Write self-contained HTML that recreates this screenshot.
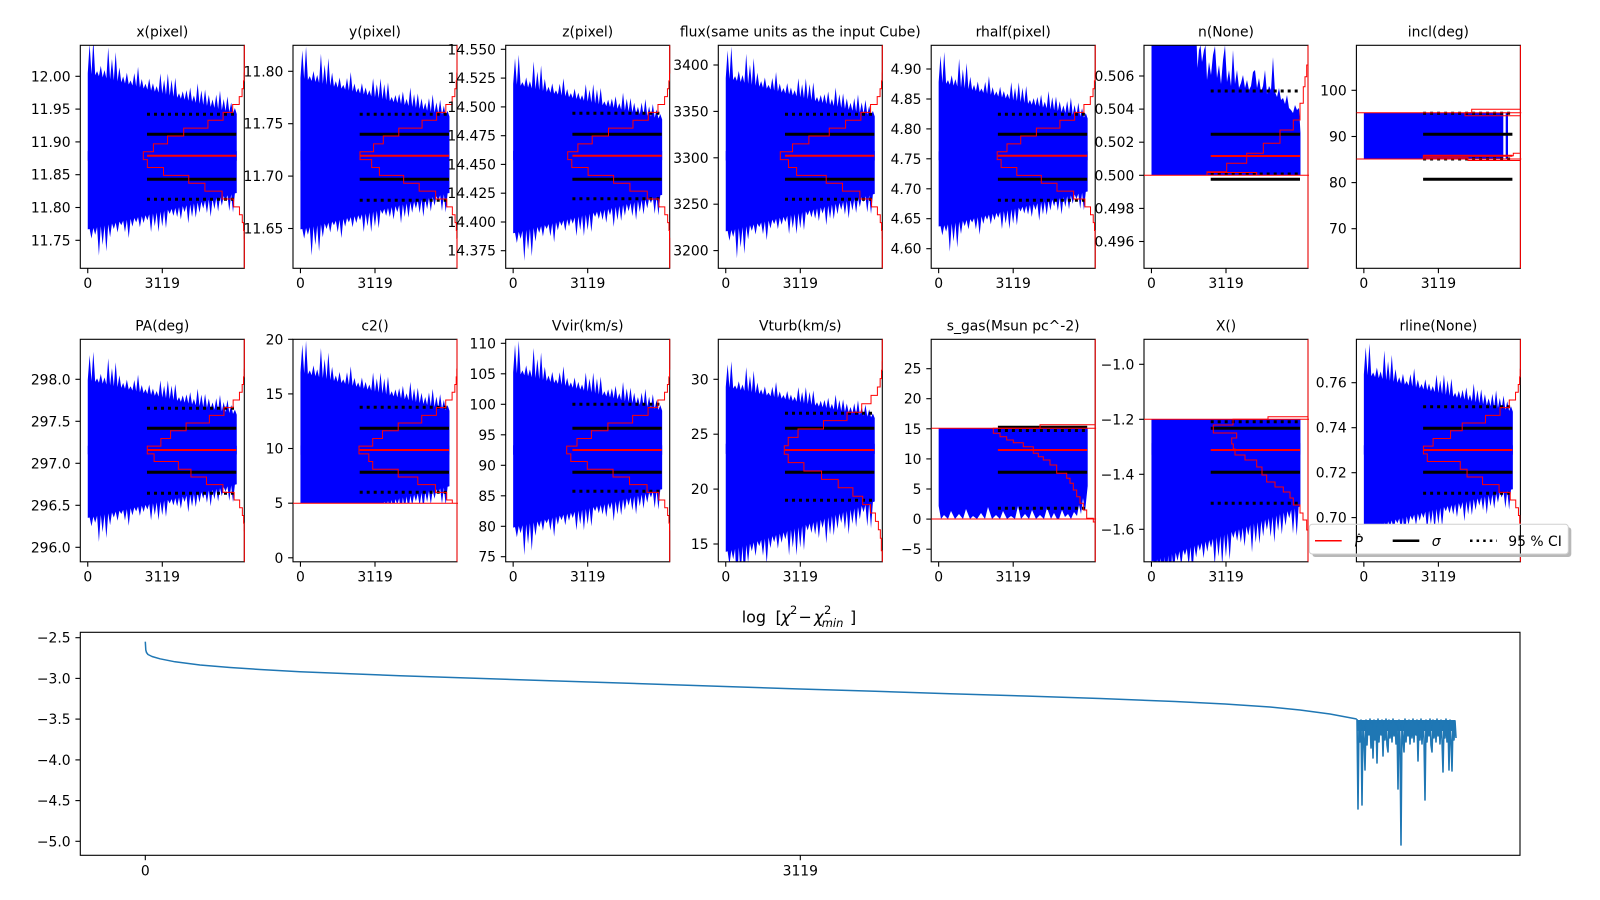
<!DOCTYPE html>
<html><head><meta charset="utf-8"><style>
html,body{margin:0;padding:0;background:#fff;}
svg{display:block;}
.b{fill:#0000ff;}
.h{fill:none;stroke:#ff0000;stroke-width:1;vector-effect:non-scaling-stroke;}
.hr{fill:none;stroke:#ff0000;stroke-width:1;}
.s{stroke:#000;stroke-width:3;}
.d{stroke:#000;stroke-width:3;stroke-dasharray:3 4;}
.m{stroke:#ff0000;stroke-width:2;}
.sp{fill:none;stroke:#000;stroke-width:1.1;}
.tk{stroke:#000;stroke-width:1.1;}
text{font-family:"DejaVu Sans","Liberation Sans",sans-serif;font-size:13.9px;fill:#000;}
.ya{text-anchor:end;}
.xa{text-anchor:middle;}
</style></head><body>
<svg xmlns="http://www.w3.org/2000/svg" xmlns:xlink="http://www.w3.org/1999/xlink" width="1600" height="900" viewBox="0 0 1600 900">
<defs>
<path id="bt" d="M0,.06 L0,-.97 L.0125,-1.317 L.025,-.958 L.0375,-1.365 L.05,-.946 L.0625,-.995 L.075,-.934 L.0875,-1.058 L.1,-.922 L.1125,-1.008 L.125,-.91 L.1375,-1.275 L.15,-.898 L.1625,-1.138 L.175,-.886 L.1875,-1.219 L.2,-.874 L.2125,-1.039 L.225,-.862 L.2375,-.932 L.25,-.85 L.2625,-.977 L.275,-.838 L.2875,-.885 L.3,-.826 L.3125,-.972 L.325,-.814 L.3375,-1.047 L.35,-.802 L.3625,-.902 L.375,-.79 L.3875,-.846 L.4,-.778 L.4125,-.907 L.425,-.766 L.4375,-.852 L.45,-.754 L.4625,-.819 L.475,-.742 L.4875,-.968 L.5,-.73 L.5125,-.893 L.525,-.718 L.5375,-.967 L.55,-.706 L.5625,-.894 L.575,-.694 L.5875,-.917 L.6,-.682 L.6125,-.734 L.625,-.67 L.6375,-.758 L.65,-.658 L.6625,-.772 L.675,-.646 L.6875,-.803 L.7,-.634 L.7125,-.71 L.725,-.622 L.7375,-.852 L.75,-.61 L.7625,-.769 L.775,-.598 L.7875,-.779 L.8,-.586 L.8125,-.716 L.825,-.574 L.8375,-.662 L.85,-.562 L.8625,-.719 L.875,-.55 L.8875,-.766 L.9,-.538 L.9125,-.667 L.925,-.526 L.9375,-.698 L.95,-.514 L.9625,-.625 L.975,-.502 L.9875,-.561 L1,-.49 L1,.06 Z"/>
<path id="bb" d="M0,-.06 L0,.97 L.0125,.964 L.025,1.091 L.0375,.952 L.05,1.04 L.0625,.94 L.075,1.315 L.0875,.928 L.1,1.175 L.1125,.916 L.125,1.259 L.1375,.904 L.15,1.073 L.1625,.892 L.175,.964 L.1875,.88 L.2,1.01 L.2125,.868 L.225,.915 L.2375,.856 L.25,1.007 L.2625,.844 L.275,1.084 L.2875,.832 L.3,.934 L.3125,.82 L.325,.877 L.3375,.808 L.35,.941 L.3625,.796 L.375,.885 L.3875,.784 L.4,.85 L.4125,.772 L.425,1.005 L.4375,.76 L.45,.928 L.4625,.748 L.475,1.005 L.4875,.736 L.5,.93 L.5125,.724 L.525,.955 L.5375,.712 L.55,.765 L.5625,.7 L.575,.791 L.5875,.688 L.6,.806 L.6125,.676 L.625,.839 L.6375,.664 L.65,.743 L.6625,.652 L.675,.891 L.6875,.64 L.7,.805 L.7125,.628 L.725,.816 L.7375,.616 L.75,.751 L.7625,.604 L.775,.695 L.7875,.592 L.8,.755 L.8125,.58 L.825,.805 L.8375,.568 L.85,.703 L.8625,.556 L.875,.735 L.8875,.544 L.9,.659 L.9125,.532 L.925,.593 L.9375,.52 L.95,.727 L.9625,.508 L.975,.747 L.9875,.496 L1,.49 L1,-.06 Z"/>
<clipPath id="k0"><rect x="80.3" y="45.3" width="165" height="223"/></clipPath>
<clipPath id="k1"><rect x="293" y="45.3" width="165" height="223"/></clipPath>
<clipPath id="k2"><rect x="505.7" y="45.3" width="165" height="223"/></clipPath>
<clipPath id="k3"><rect x="718.3" y="45.3" width="165" height="223"/></clipPath>
<clipPath id="k4"><rect x="931.2" y="45.3" width="165" height="223"/></clipPath>
<clipPath id="k5"><rect x="1144" y="45.3" width="165" height="223"/></clipPath>
<clipPath id="k6"><rect x="1356.4" y="45.3" width="165" height="223"/></clipPath>
<clipPath id="k7"><rect x="80.3" y="339.3" width="165" height="222.5"/></clipPath>
<clipPath id="k8"><rect x="293" y="339.3" width="165" height="222.5"/></clipPath>
<clipPath id="k8b"><rect x="293" y="339.3" width="165" height="164"/></clipPath>
<clipPath id="k9"><rect x="505.7" y="339.3" width="165" height="222.5"/></clipPath>
<clipPath id="k10"><rect x="718.3" y="339.3" width="165" height="222.5"/></clipPath>
<clipPath id="k11"><rect x="931.2" y="339.3" width="165" height="222.5"/></clipPath>
<clipPath id="k12"><rect x="1144" y="339.3" width="165" height="222.5"/></clipPath>
<clipPath id="k12b"><rect x="1144" y="419.3" width="165" height="142.5"/></clipPath>
<clipPath id="k13"><rect x="1356.4" y="339.3" width="165" height="222.5"/></clipPath>
<clipPath id="kb"><rect x="80.3" y="632.3" width="1439.7" height="223"/></clipPath>
</defs>
<rect x="0" y="0" width="1600" height="900" fill="#fff"/>

<!-- ===== P1 x(pixel) ===== -->
<g clip-path="url(#k0)">
<use xlink:href="#bt" class="b" transform="translate(87.75,155.7) scale(149,85)"/>
<use xlink:href="#bb" class="b" transform="translate(87.75,155.7) scale(149,76)"/>
<line class="d" x1="147" x2="236.3" y1="114.3" y2="114.3"/>
<line class="d" x1="147" x2="236.3" y1="199.3" y2="199.3"/>
<line class="s" x1="147" x2="236.3" y1="134.3" y2="134.3"/>
<line class="s" x1="147" x2="236.3" y1="179.3" y2="179.3"/>
<line class="m" x1="147" x2="236.3" y1="155.7" y2="155.7"/>
</g>
<rect class="sp" x="80.3" y="45.3" width="164" height="223"/>
<g clip-path="url(#k0)"><path class="h" transform="translate(244.3,155.7) scale(101,22.5)" d="M0,-8V-3.675H-.002V-3.325H-.008V-2.975H-.022V-2.625H-.05V-2.275H-.115V-1.925H-.21V-1.575H-.36V-1.225H-.6V-.875H-.76V-.525H-.9V-.175H-1V.175H-.96V.525H-.8V.875H-.55V1.225H-.39V1.575H-.22V1.925H-.105V2.275H-.048V2.625H-.02V2.975H-.007V3.325H-.002V3.675H0V8"/></g>
<text class="xa" x="162.3" y="36.7">x(pixel)</text>
<g class="tk"><line x1="75.4" x2="80.3" y1="76.3" y2="76.3"/><line x1="75.4" x2="80.3" y1="109.1" y2="109.1"/><line x1="75.4" x2="80.3" y1="141.9" y2="141.9"/><line x1="75.4" x2="80.3" y1="174.7" y2="174.7"/><line x1="75.4" x2="80.3" y1="207.5" y2="207.5"/><line x1="75.4" x2="80.3" y1="240.3" y2="240.3"/><line x1="87.75" x2="87.75" y1="268.3" y2="273.2"/><line x1="162.3" x2="162.3" y1="268.3" y2="273.2"/></g>
<text class="ya" x="70.6" y="81.3">12.00</text><text class="ya" x="70.6" y="114.1">11.95</text><text class="ya" x="70.6" y="146.9">11.90</text><text class="ya" x="70.6" y="179.7">11.85</text><text class="ya" x="70.6" y="212.5">11.80</text><text class="ya" x="70.6" y="245.3">11.75</text>
<text class="xa" x="87.75" y="287.8">0</text><text class="xa" x="162.3" y="287.8">3119</text>

<!-- ===== P2 y(pixel) ===== -->
<g clip-path="url(#k1)">
<use xlink:href="#bt" class="b" transform="translate(300.45,155.7) scale(149,80)"/>
<use xlink:href="#bb" class="b" transform="translate(300.45,155.7) scale(149,76)"/>
<line class="d" x1="359.7" x2="449" y1="114.3" y2="114.3"/>
<line class="d" x1="359.7" x2="449" y1="200.3" y2="200.3"/>
<line class="s" x1="359.7" x2="449" y1="134.3" y2="134.3"/>
<line class="s" x1="359.7" x2="449" y1="179.3" y2="179.3"/>
<line class="m" x1="359.7" x2="449" y1="155.7" y2="155.7"/>
</g>
<rect class="sp" x="293" y="45.3" width="164" height="223"/>
<g clip-path="url(#k1)"><path class="h" transform="translate(457,155.7) scale(97,22.5)" d="M0,-8V-3.675H-.002V-3.325H-.008V-2.975H-.022V-2.625H-.05V-2.275H-.115V-1.925H-.21V-1.575H-.36V-1.225H-.6V-.875H-.76V-.525H-.86V-.175H-1V.175H-.88V.525H-.8V.875H-.55V1.225H-.39V1.575H-.22V1.925H-.105V2.275H-.048V2.625H-.02V2.975H-.007V3.325H-.002V3.675H0V8"/></g>
<text class="xa" x="375" y="36.7">y(pixel)</text>
<g class="tk"><line x1="288.1" x2="293" y1="71.3" y2="71.3"/><line x1="288.1" x2="293" y1="123.7" y2="123.7"/><line x1="288.1" x2="293" y1="176.1" y2="176.1"/><line x1="288.1" x2="293" y1="228.5" y2="228.5"/><line x1="300.45" x2="300.45" y1="268.3" y2="273.2"/><line x1="375" x2="375" y1="268.3" y2="273.2"/></g>
<text class="ya" x="283.3" y="76.3">11.80</text><text class="ya" x="283.3" y="128.7">11.75</text><text class="ya" x="283.3" y="181.1">11.70</text><text class="ya" x="283.3" y="233.5">11.65</text>
<text class="xa" x="300.45" y="287.8">0</text><text class="xa" x="375" y="287.8">3119</text>

<!-- ===== P3 z(pixel) ===== -->
<g clip-path="url(#k2)">
<use xlink:href="#bt" class="b" transform="translate(513.15,155.7) scale(149,74)"/>
<use xlink:href="#bb" class="b" transform="translate(513.15,155.7) scale(149,80)"/>
<line class="d" x1="572.4" x2="661.7" y1="113.3" y2="113.3"/>
<line class="d" x1="572.4" x2="661.7" y1="198.7" y2="198.7"/>
<line class="s" x1="572.4" x2="661.7" y1="134.3" y2="134.3"/>
<line class="s" x1="572.4" x2="661.7" y1="179.3" y2="179.3"/>
<line class="m" x1="572.4" x2="661.7" y1="155.7" y2="155.7"/>
</g>
<rect class="sp" x="505.7" y="45.3" width="164" height="223"/>
<g clip-path="url(#k2)"><path class="h" transform="translate(669.7,155.7) scale(102,22.5)" d="M0,-8V-3.675H-.002V-3.325H-.008V-2.975H-.022V-2.625H-.05V-2.275H-.115V-1.925H-.21V-1.575H-.36V-1.225H-.6V-.875H-.76V-.525H-.9V-.175H-1V.175H-.96V.525H-.8V.875H-.55V1.225H-.39V1.575H-.22V1.925H-.105V2.275H-.048V2.625H-.02V2.975H-.007V3.325H-.002V3.675H0V8"/></g>
<text class="xa" x="587.7" y="36.7">z(pixel)</text>
<g class="tk"><line x1="500.8" x2="505.7" y1="49.3" y2="49.3"/><line x1="500.8" x2="505.7" y1="78.1" y2="78.1"/><line x1="500.8" x2="505.7" y1="106.9" y2="106.9"/><line x1="500.8" x2="505.7" y1="135.7" y2="135.7"/><line x1="500.8" x2="505.7" y1="164.4" y2="164.4"/><line x1="500.8" x2="505.7" y1="193.2" y2="193.2"/><line x1="500.8" x2="505.7" y1="222" y2="222"/><line x1="500.8" x2="505.7" y1="250.7" y2="250.7"/><line x1="513.15" x2="513.15" y1="268.3" y2="273.2"/><line x1="587.7" x2="587.7" y1="268.3" y2="273.2"/></g>
<text class="ya" x="496" y="54.3">14.550</text><text class="ya" x="496" y="83.1">14.525</text><text class="ya" x="496" y="111.9">14.500</text><text class="ya" x="496" y="140.7">14.475</text><text class="ya" x="496" y="169.4">14.450</text><text class="ya" x="496" y="198.2">14.425</text><text class="ya" x="496" y="227">14.400</text><text class="ya" x="496" y="255.7">14.375</text>
<text class="xa" x="513.15" y="287.8">0</text><text class="xa" x="587.7" y="287.8">3119</text>

<!-- ===== P4 flux ===== -->
<g clip-path="url(#k3)">
<use xlink:href="#bt" class="b" transform="translate(725.75,155.7) scale(149,80)"/>
<use xlink:href="#bb" class="b" transform="translate(725.75,155.7) scale(149,78)"/>
<line class="d" x1="785" x2="874.3" y1="114.3" y2="114.3"/>
<line class="d" x1="785" x2="874.3" y1="199.3" y2="199.3"/>
<line class="s" x1="785" x2="874.3" y1="134.3" y2="134.3"/>
<line class="s" x1="785" x2="874.3" y1="179.3" y2="179.3"/>
<line class="m" x1="785" x2="874.3" y1="155.7" y2="155.7"/>
</g>
<rect class="sp" x="718.3" y="45.3" width="164" height="223"/>
<g clip-path="url(#k3)"><path class="h" transform="translate(882.3,155.7) scale(102,22.5)" d="M0,-8V-3.675H-.002V-3.325H-.008V-2.975H-.022V-2.625H-.05V-2.275H-.115V-1.925H-.21V-1.575H-.36V-1.225H-.52V-.875H-.72V-.525H-.88V-.175H-1V.175H-.92V.525H-.84V.875H-.55V1.225H-.39V1.575H-.22V1.925H-.105V2.275H-.048V2.625H-.02V2.975H-.007V3.325H-.002V3.675H0V8"/></g>
<text class="xa" x="800.3" y="36.7">flux(same units as the input Cube)</text>
<g class="tk"><line x1="713.4" x2="718.3" y1="65" y2="65"/><line x1="713.4" x2="718.3" y1="111.4" y2="111.4"/><line x1="713.4" x2="718.3" y1="157.8" y2="157.8"/><line x1="713.4" x2="718.3" y1="204.2" y2="204.2"/><line x1="713.4" x2="718.3" y1="250.6" y2="250.6"/><line x1="725.75" x2="725.75" y1="268.3" y2="273.2"/><line x1="800.3" x2="800.3" y1="268.3" y2="273.2"/></g>
<text class="ya" x="708.6" y="70">3400</text><text class="ya" x="708.6" y="116.4">3350</text><text class="ya" x="708.6" y="162.8">3300</text><text class="ya" x="708.6" y="209.2">3250</text><text class="ya" x="708.6" y="255.6">3200</text>
<text class="xa" x="725.75" y="287.8">0</text><text class="xa" x="800.3" y="287.8">3119</text>

<!-- ===== P5 rhalf ===== -->
<g clip-path="url(#k4)">
<use xlink:href="#bt" class="b" transform="translate(938.65,155.7) scale(149,76)"/>
<use xlink:href="#bb" class="b" transform="translate(938.65,155.7) scale(149,73)"/>
<line class="d" x1="997.9" x2="1087.2" y1="114.3" y2="114.3"/>
<line class="d" x1="997.9" x2="1087.2" y1="200.3" y2="200.3"/>
<line class="s" x1="997.9" x2="1087.2" y1="134.3" y2="134.3"/>
<line class="s" x1="997.9" x2="1087.2" y1="179.3" y2="179.3"/>
<line class="m" x1="997.9" x2="1087.2" y1="155.7" y2="155.7"/>
</g>
<rect class="sp" x="931.2" y="45.3" width="164" height="223"/>
<g clip-path="url(#k4)"><path class="h" transform="translate(1095.2,155.7) scale(98,22.5)" d="M0,-8V-3.675H-.002V-3.325H-.008V-2.975H-.022V-2.625H-.05V-2.275H-.115V-1.925H-.21V-1.575H-.36V-1.225H-.6V-.875H-.76V-.525H-.9V-.175H-1V.175H-.96V.525H-.8V.875H-.55V1.225H-.39V1.575H-.22V1.925H-.105V2.275H-.048V2.625H-.02V2.975H-.007V3.325H-.002V3.675H0V8"/></g>
<text class="xa" x="1013.2" y="36.7">rhalf(pixel)</text>
<g class="tk"><line x1="926.3" x2="931.2" y1="69" y2="69"/><line x1="926.3" x2="931.2" y1="99" y2="99"/><line x1="926.3" x2="931.2" y1="128.9" y2="128.9"/><line x1="926.3" x2="931.2" y1="158.8" y2="158.8"/><line x1="926.3" x2="931.2" y1="188.8" y2="188.8"/><line x1="926.3" x2="931.2" y1="218.7" y2="218.7"/><line x1="926.3" x2="931.2" y1="248.7" y2="248.7"/><line x1="938.65" x2="938.65" y1="268.3" y2="273.2"/><line x1="1013.2" x2="1013.2" y1="268.3" y2="273.2"/></g>
<text class="ya" x="921.5" y="74">4.90</text><text class="ya" x="921.5" y="104">4.85</text><text class="ya" x="921.5" y="133.9">4.80</text><text class="ya" x="921.5" y="163.8">4.75</text><text class="ya" x="921.5" y="193.8">4.70</text><text class="ya" x="921.5" y="223.7">4.65</text><text class="ya" x="921.5" y="253.7">4.60</text>
<text class="xa" x="938.65" y="287.8">0</text><text class="xa" x="1013.2" y="287.8">3119</text>

<!-- ===== P6 n(None) ===== -->
<g clip-path="url(#k5)">
<path class="b" d="M1151.5,175.3 V45.3 H1196.7 L1197.5,68 L1199,50 L1200.5,45.3 L1202,62 L1204,50 L1205.5,45.3 L1207,80 L1209,62 L1211,75 L1213,55 L1215,46 L1217,78 L1219,65 L1221,84 L1223,60 L1225,45.3 L1227,82 L1229,70 L1231,86 L1233,50 L1235,84 L1237,70 L1239,88 L1241,83 L1243,75 L1245,88 L1247,80 L1249,90 L1251,86 L1253,72 L1255,70 L1257,88 L1259,78 L1261,92 L1263,86 L1265,70 L1267,94 L1269,86 L1271,90 L1273,57 L1275,92 L1277,97 L1279,88 L1281,100 L1283,98 L1285,104 L1287,95 L1289,108 L1291,110 L1293,113 L1295,105 L1297,110 L1299,108 L1300.5,133 L1300.5,175.3 Z"/>
<line class="d" x1="1210.7" x2="1300" y1="91" y2="91"/>
<line class="d" x1="1210.7" x2="1300" y1="174" y2="174"/>
<line class="s" x1="1210.7" x2="1300" y1="134.3" y2="134.3"/>
<line class="s" x1="1210.7" x2="1300" y1="179.3" y2="179.3"/>
<line class="m" x1="1210.7" x2="1300" y1="156" y2="156"/>
</g>
<rect class="sp" x="1144" y="45.3" width="164" height="223"/>
<g clip-path="url(#k5)">
<line class="hr" x1="1144" x2="1309" y1="175.3" y2="175.3"/>
<path class="hr" d="M1308,268.3 V45.3 M1308,65 H1306.7 V76.7 H1305 V86.7 H1303.3 V103.3 H1300 V120 H1293.3 V130 H1280 V143.3 H1263.3 V153.3 H1246.7 V163.3 H1226.7 V171.7 H1207 V175.3 M1207,172.5 H1256.7 V175"/>
</g>
<text class="xa" x="1226" y="36.7">n(None)</text>
<g class="tk"><line x1="1139.1" x2="1144" y1="76" y2="76"/><line x1="1139.1" x2="1144" y1="109.1" y2="109.1"/><line x1="1139.1" x2="1144" y1="142.2" y2="142.2"/><line x1="1139.1" x2="1144" y1="175.3" y2="175.3"/><line x1="1139.1" x2="1144" y1="208.4" y2="208.4"/><line x1="1139.1" x2="1144" y1="241.5" y2="241.5"/><line x1="1151.45" x2="1151.45" y1="268.3" y2="273.2"/><line x1="1226" x2="1226" y1="268.3" y2="273.2"/></g>
<text class="ya" x="1134.3" y="81">0.506</text><text class="ya" x="1134.3" y="114.1">0.504</text><text class="ya" x="1134.3" y="147.2">0.502</text><text class="ya" x="1134.3" y="180.3">0.500</text><text class="ya" x="1134.3" y="213.4">0.498</text><text class="ya" x="1134.3" y="246.5">0.496</text>
<text class="xa" x="1151.45" y="287.8">0</text><text class="xa" x="1226" y="287.8">3119</text>

<!-- ===== P7 incl(deg) ===== -->
<g clip-path="url(#k6)">
<rect class="b" x="1363.85" y="112.7" width="139.45" height="46.3"/>
<rect class="b" x="1505.7" y="112.7" width="2.3" height="46.3"/>
<line class="d" x1="1423.1" x2="1512.4" y1="113.3" y2="113.3"/>
<line class="d" x1="1423.1" x2="1512.4" y1="159" y2="159"/>
<line class="s" x1="1423.1" x2="1512.4" y1="134.3" y2="134.3"/>
<line class="s" x1="1423.1" x2="1512.4" y1="179.3" y2="179.3"/>
<line class="m" x1="1423.1" x2="1512.4" y1="155.7" y2="155.7"/>
</g>
<rect class="sp" x="1356.4" y="45.3" width="164" height="223"/>
<g clip-path="url(#k6)">
<line class="hr" x1="1356.4" x2="1521.4" y1="112.7" y2="112.7"/>
<line class="hr" x1="1356.4" x2="1521.4" y1="159" y2="159"/>
<path class="hr" d="M1520.4,45.3 V268.3 M1520.4,109.3 H1471.7 V112.7 H1465 V115.7 H1520.4 M1520.4,153.3 H1513.3 V155.7 H1423.3 V157.7 H1468 V160.5 H1520.4"/>
</g>
<text class="xa" x="1438.4" y="36.7">incl(deg)</text>
<g class="tk"><line x1="1351.5" x2="1356.4" y1="90.3" y2="90.3"/><line x1="1351.5" x2="1356.4" y1="136.5" y2="136.5"/><line x1="1351.5" x2="1356.4" y1="182.6" y2="182.6"/><line x1="1351.5" x2="1356.4" y1="228.7" y2="228.7"/><line x1="1363.85" x2="1363.85" y1="268.3" y2="273.2"/><line x1="1438.4" x2="1438.4" y1="268.3" y2="273.2"/></g>
<text class="ya" x="1346.7" y="95.3">100</text><text class="ya" x="1346.7" y="141.5">90</text><text class="ya" x="1346.7" y="187.6">80</text><text class="ya" x="1346.7" y="233.7">70</text>
<text class="xa" x="1363.85" y="287.8">0</text><text class="xa" x="1438.4" y="287.8">3119</text>

<!-- ===== P8 PA(deg) ===== -->
<g clip-path="url(#k7)">
<use xlink:href="#bt" class="b" transform="translate(87.75,450) scale(149,72)"/>
<use xlink:href="#bb" class="b" transform="translate(87.75,450) scale(149,70)"/>
<line class="d" x1="147" x2="236.3" y1="408.3" y2="408.3"/>
<line class="d" x1="147" x2="236.3" y1="493.3" y2="493.3"/>
<line class="s" x1="147" x2="236.3" y1="428.3" y2="428.3"/>
<line class="s" x1="147" x2="236.3" y1="472.3" y2="472.3"/>
<line class="m" x1="147" x2="236.3" y1="450" y2="450"/>
</g>
<rect class="sp" x="80.3" y="339.3" width="164" height="222.5"/>
<g clip-path="url(#k7)"><path class="h" transform="translate(244.3,450) scale(97,22)" d="M0,-8V-3.675H-.002V-3.325H-.008V-2.975H-.022V-2.625H-.05V-2.275H-.115V-1.925H-.21V-1.575H-.36V-1.225H-.6V-.875H-.76V-.525H-.86V-.175H-1V.175H-.93V.525H-.68V.875H-.55V1.225H-.39V1.575H-.22V1.925H-.105V2.275H-.048V2.625H-.02V2.975H-.007V3.325H-.002V3.675H0V8"/></g>
<text class="xa" x="162.3" y="330.7">PA(deg)</text>
<g class="tk"><line x1="75.4" x2="80.3" y1="379.3" y2="379.3"/><line x1="75.4" x2="80.3" y1="421.3" y2="421.3"/><line x1="75.4" x2="80.3" y1="463.3" y2="463.3"/><line x1="75.4" x2="80.3" y1="505.3" y2="505.3"/><line x1="75.4" x2="80.3" y1="547.3" y2="547.3"/><line x1="87.75" x2="87.75" y1="561.8" y2="566.7"/><line x1="162.3" x2="162.3" y1="561.8" y2="566.7"/></g>
<text class="ya" x="70.6" y="384.3">298.0</text><text class="ya" x="70.6" y="426.3">297.5</text><text class="ya" x="70.6" y="468.3">297.0</text><text class="ya" x="70.6" y="510.3">296.5</text><text class="ya" x="70.6" y="552.3">296.0</text>
<text class="xa" x="87.75" y="581.5">0</text><text class="xa" x="162.3" y="581.5">3119</text>

<!-- ===== P9 c2() ===== -->
<g clip-path="url(#k8b)">
<use xlink:href="#bt" class="b" transform="translate(300.45,450) scale(149,80)"/>
<use xlink:href="#bb" class="b" transform="translate(300.45,450) scale(149,74)"/>
</g>
<g clip-path="url(#k8)">
<line class="d" x1="359.7" x2="449" y1="407.3" y2="407.3"/>
<line class="d" x1="359.7" x2="449" y1="492.3" y2="492.3"/>
<line class="s" x1="359.7" x2="449" y1="428.3" y2="428.3"/>
<line class="s" x1="359.7" x2="449" y1="472.3" y2="472.3"/>
<line class="m" x1="359.7" x2="449" y1="450" y2="450"/>
</g>
<rect class="sp" x="293" y="339.3" width="164" height="222.5"/>
<g clip-path="url(#k8b)"><path class="h" transform="translate(457,450) scale(98,22)" d="M0,-8V-3.675H-.002V-3.325H-.008V-2.975H-.022V-2.625H-.05V-2.275H-.115V-1.925H-.21V-1.575H-.36V-1.225H-.6V-.875H-.76V-.525H-.86V-.175H-1V.175H-.9V.525H-.86V.875H-.6V1.225H-.4V1.575H-.22V1.925H-.105V2.275H-.048V2.625H-.02V2.975H-.007V3.325H-.002V3.675H0V8"/></g>
<g clip-path="url(#k8)"><line class="hr" x1="293" x2="458" y1="503.3" y2="503.3"/><line class="hr" x1="457" x2="457" y1="339.3" y2="561.8"/></g>
<text class="xa" x="375" y="330.7">c2()</text>
<g class="tk"><line x1="288.1" x2="293" y1="339.3" y2="339.3"/><line x1="288.1" x2="293" y1="393.9" y2="393.9"/><line x1="288.1" x2="293" y1="448.5" y2="448.5"/><line x1="288.1" x2="293" y1="503.2" y2="503.2"/><line x1="288.1" x2="293" y1="557.8" y2="557.8"/><line x1="300.45" x2="300.45" y1="561.8" y2="566.7"/><line x1="375" x2="375" y1="561.8" y2="566.7"/></g>
<text class="ya" x="283.3" y="344.3">20</text><text class="ya" x="283.3" y="398.9">15</text><text class="ya" x="283.3" y="453.5">10</text><text class="ya" x="283.3" y="508.2">5</text><text class="ya" x="283.3" y="562.8">0</text>
<text class="xa" x="300.45" y="581.5">0</text><text class="xa" x="375" y="581.5">3119</text>

<!-- ===== P10 Vvir ===== -->
<g clip-path="url(#k9)">
<use xlink:href="#bt" class="b" transform="translate(513.15,450) scale(149,80)"/>
<use xlink:href="#bb" class="b" transform="translate(513.15,450) scale(149,80)"/>
<line class="d" x1="572.4" x2="661.7" y1="404.3" y2="404.3"/>
<line class="d" x1="572.4" x2="661.7" y1="491.3" y2="491.3"/>
<line class="s" x1="572.4" x2="661.7" y1="428.3" y2="428.3"/>
<line class="s" x1="572.4" x2="661.7" y1="472.3" y2="472.3"/>
<line class="m" x1="572.4" x2="661.7" y1="450" y2="450"/>
</g>
<rect class="sp" x="505.7" y="339.3" width="164" height="222.5"/>
<g clip-path="url(#k9)"><path class="h" transform="translate(669.7,450) scale(103,22)" d="M0,-8V-3.675H-.002V-3.325H-.008V-2.975H-.022V-2.625H-.05V-2.275H-.115V-1.925H-.21V-1.575H-.36V-1.225H-.6V-.875H-.76V-.525H-.9V-.175H-1V.175H-.96V.525H-.8V.875H-.55V1.225H-.39V1.575H-.22V1.925H-.105V2.275H-.048V2.625H-.02V2.975H-.007V3.325H-.002V3.675H0V8"/></g>
<text class="xa" x="587.7" y="330.7">Vvir(km/s)</text>
<g class="tk"><line x1="500.8" x2="505.7" y1="343.3" y2="343.3"/><line x1="500.8" x2="505.7" y1="373.8" y2="373.8"/><line x1="500.8" x2="505.7" y1="404.3" y2="404.3"/><line x1="500.8" x2="505.7" y1="434.8" y2="434.8"/><line x1="500.8" x2="505.7" y1="465.3" y2="465.3"/><line x1="500.8" x2="505.7" y1="495.8" y2="495.8"/><line x1="500.8" x2="505.7" y1="526.3" y2="526.3"/><line x1="500.8" x2="505.7" y1="556.7" y2="556.7"/><line x1="513.15" x2="513.15" y1="561.8" y2="566.7"/><line x1="587.7" x2="587.7" y1="561.8" y2="566.7"/></g>
<text class="ya" x="496" y="348.3">110</text><text class="ya" x="496" y="378.8">105</text><text class="ya" x="496" y="409.3">100</text><text class="ya" x="496" y="439.8">95</text><text class="ya" x="496" y="470.3">90</text><text class="ya" x="496" y="500.8">85</text><text class="ya" x="496" y="531.3">80</text><text class="ya" x="496" y="561.7">75</text>
<text class="xa" x="513.15" y="581.5">0</text><text class="xa" x="587.7" y="581.5">3119</text>

<!-- ===== P11 Vturb ===== -->
<g clip-path="url(#k10)">
<use xlink:href="#bt" class="b" transform="translate(725.75,450) scale(149,65)"/>
<use xlink:href="#bb" class="b" transform="translate(725.75,450) scale(149,105)"/>
<line class="d" x1="785" x2="874.3" y1="413.3" y2="413.3"/>
<line class="d" x1="785" x2="874.3" y1="500.3" y2="500.3"/>
<line class="s" x1="785" x2="874.3" y1="428.3" y2="428.3"/>
<line class="s" x1="785" x2="874.3" y1="472.3" y2="472.3"/>
<line class="m" x1="785" x2="874.3" y1="450" y2="450"/>
</g>
<rect class="sp" x="718.3" y="339.3" width="164" height="222.5"/>
<g clip-path="url(#k10)"><path class="h" transform="translate(882.3,450) scale(98,24)" d="M0,-8V-3.675H-.002V-3.325H-.008V-2.975H-.022V-2.625H-.05V-2.275H-.115V-1.925H-.21V-1.575H-.36V-1.225H-.6V-.875H-.86V-.525H-.96V-.175H-1V.175H-.96V.525H-.8V.875H-.62V1.225H-.45V1.575H-.3V1.925H-.2V2.275H-.12V2.625H-.07V2.975H-.04V3.325H-.02V3.675H-.01V4.2H0V8"/></g>
<text class="xa" x="800.3" y="330.7">Vturb(km/s)</text>
<g class="tk"><line x1="713.4" x2="718.3" y1="379.3" y2="379.3"/><line x1="713.4" x2="718.3" y1="434.2" y2="434.2"/><line x1="713.4" x2="718.3" y1="489.1" y2="489.1"/><line x1="713.4" x2="718.3" y1="544" y2="544"/><line x1="725.75" x2="725.75" y1="561.8" y2="566.7"/><line x1="800.3" x2="800.3" y1="561.8" y2="566.7"/></g>
<text class="ya" x="708.6" y="384.3">30</text><text class="ya" x="708.6" y="439.2">25</text><text class="ya" x="708.6" y="494.1">20</text><text class="ya" x="708.6" y="549">15</text>
<text class="xa" x="725.75" y="581.5">0</text><text class="xa" x="800.3" y="581.5">3119</text>

<!-- ===== P12 s_gas ===== -->
<g clip-path="url(#k11)">
<path class="b" d="M938.65,428.3 H1087.7 V486 L1085,512 L1083,498 L1081,514 L1079,505 L1077,516 L1074,512 L1071,519 L1068,514 L1065,517 L1062,510 L1059,519 L1057,519 L1054,513 L1051,519 L1047,508 L1044,519 L1040,515 L1036,519 L1032,510 L1029,519 L1025,514 L1021,519 L1018,506 L1015,519 L1011,516 L1007,519 L1003,511 L1000,519 L996,515 L992,519 L988,507 L985,519 L981,513 L977,519 L973,516 L970,519 L966,509 L963,519 L959,514 L955,519 L951,511 L948,519 L944,515 L941,519 L938.65,506 Z"/>
<line class="d" x1="997.9" x2="1087.2" y1="430.5" y2="430.5"/>
<line class="d" x1="997.9" x2="1087.2" y1="508.3" y2="508.3"/>
<line class="s" x1="997.9" x2="1087.2" y1="427.3" y2="427.3"/>
<line class="s" x1="997.9" x2="1087.2" y1="472.3" y2="472.3"/>
<line class="m" x1="997.9" x2="1087.2" y1="450" y2="450"/>
</g>
<rect class="sp" x="931.2" y="339.3" width="164" height="222.5"/>
<g clip-path="url(#k11)">
<line class="hr" x1="931.2" x2="1096.2" y1="428.3" y2="428.3"/>
<line class="hr" x1="931.2" x2="1096.2" y1="519" y2="519"/>
<path class="hr" d="M1095.2,339.3 V561.8 M1095.2,424.7 H1040 V428.3 H993.3 V433.3 H1000 V436.7 H1006.7 V440 H1013.3 V442.7 H1023.3 V446.7 H1033.3 V453.3 H1038.3 V456.7 H1043.3 V460 H1050 V465 H1056.7 V473.3 H1066.7 V478.3 H1070 V483.3 H1073.3 V490 H1076.7 V496.7 H1080 V503.3 H1083.3 V510 H1086.7 V518.3 H1093.3 V522 H1095.2"/>
</g>
<text class="xa" x="1013.2" y="330.7">s_gas(Msun pc^-2)</text>
<g class="tk"><line x1="926.3" x2="931.2" y1="368.7" y2="368.7"/><line x1="926.3" x2="931.2" y1="398.7" y2="398.7"/><line x1="926.3" x2="931.2" y1="428.8" y2="428.8"/><line x1="926.3" x2="931.2" y1="458.9" y2="458.9"/><line x1="926.3" x2="931.2" y1="489" y2="489"/><line x1="926.3" x2="931.2" y1="519.1" y2="519.1"/><line x1="926.3" x2="931.2" y1="549.2" y2="549.2"/><line x1="938.65" x2="938.65" y1="561.8" y2="566.7"/><line x1="1013.2" x2="1013.2" y1="561.8" y2="566.7"/></g>
<text class="ya" x="921.5" y="373.7">25</text><text class="ya" x="921.5" y="403.7">20</text><text class="ya" x="921.5" y="433.8">15</text><text class="ya" x="921.5" y="463.9">10</text><text class="ya" x="921.5" y="494">5</text><text class="ya" x="921.5" y="524.1">0</text><text class="ya" x="921.5" y="554.2">−5</text>
<text class="xa" x="938.65" y="581.5">0</text><text class="xa" x="1013.2" y="581.5">3119</text>

<!-- ===== P13 X() ===== -->
<g clip-path="url(#k12b)">
<use xlink:href="#bt" class="b" transform="translate(1151.45,450) scale(149,80)"/>
<use xlink:href="#bb" class="b" transform="translate(1151.45,450) scale(149,115)"/>
</g>
<g clip-path="url(#k12)">
<line class="d" x1="1210.7" x2="1300" y1="421.7" y2="421.7"/>
<line class="d" x1="1210.7" x2="1300" y1="503.3" y2="503.3"/>
<line class="s" x1="1210.7" x2="1300" y1="428.3" y2="428.3"/>
<line class="s" x1="1210.7" x2="1300" y1="472.3" y2="472.3"/>
<line class="m" x1="1210.7" x2="1300" y1="450" y2="450"/>
</g>
<rect class="sp" x="1144" y="339.3" width="164" height="222.5"/>
<g clip-path="url(#k12)">
<line class="hr" x1="1144" x2="1309" y1="419.3" y2="419.3"/>
<path class="hr" d="M1308,339.3 V561.8 M1308,416.7 H1268 V419.3 H1233 V425 H1213.3 V433 H1236.7 V438 H1231.7 V444 H1233.3 V449 H1235 V455 H1245 V460 H1256.7 V467 H1262 V475 H1266.7 V482 H1275 V487 H1283.3 V492 H1290 V498 H1293.3 V505 H1300 V513 H1303 V520 H1306.7 V530 H1308"/>
</g>
<text class="xa" x="1226" y="330.7">X()</text>
<g class="tk"><line x1="1139.1" x2="1144" y1="364.3" y2="364.3"/><line x1="1139.1" x2="1144" y1="419.3" y2="419.3"/><line x1="1139.1" x2="1144" y1="474.3" y2="474.3"/><line x1="1139.1" x2="1144" y1="529.3" y2="529.3"/><line x1="1151.45" x2="1151.45" y1="561.8" y2="566.7"/><line x1="1226" x2="1226" y1="561.8" y2="566.7"/></g>
<text class="ya" x="1134.3" y="369.3">−1.0</text><text class="ya" x="1134.3" y="424.3">−1.2</text><text class="ya" x="1134.3" y="479.3">−1.4</text><text class="ya" x="1134.3" y="534.3">−1.6</text>
<text class="xa" x="1151.45" y="581.5">0</text><text class="xa" x="1226" y="581.5">3119</text>

<!-- ===== P14 rline ===== -->
<g clip-path="url(#k13)">
<use xlink:href="#bt" class="b" transform="translate(1363.85,450) scale(149,78)"/>
<use xlink:href="#bb" class="b" transform="translate(1363.85,450) scale(149,80)"/>
<line class="d" x1="1423.1" x2="1512.4" y1="406.7" y2="406.7"/>
<line class="d" x1="1423.1" x2="1512.4" y1="493.3" y2="493.3"/>
<line class="s" x1="1423.1" x2="1512.4" y1="428.3" y2="428.3"/>
<line class="s" x1="1423.1" x2="1512.4" y1="472.3" y2="472.3"/>
<line class="m" x1="1423.1" x2="1512.4" y1="450" y2="450"/>
</g>
<rect class="sp" x="1356.4" y="339.3" width="164" height="222.5"/>
<g clip-path="url(#k13)"><path class="h" transform="translate(1520.4,450) scale(97,22)" d="M0,-8V-3.675H-.002V-3.325H-.008V-2.975H-.022V-2.625H-.05V-2.275H-.115V-1.925H-.21V-1.575H-.36V-1.225H-.6V-.875H-.72V-.525H-.9V-.175H-1V.175H-.96V.525H-.62V.875H-.55V1.225H-.39V1.575H-.22V1.925H-.105V2.275H-.048V2.625H-.02V2.975H-.007V3.325H-.002V3.675H0V8"/></g>
<text class="xa" x="1438.4" y="330.7">rline(None)</text>
<g class="tk"><line x1="1351.5" x2="1356.4" y1="382.7" y2="382.7"/><line x1="1351.5" x2="1356.4" y1="427.7" y2="427.7"/><line x1="1351.5" x2="1356.4" y1="472.7" y2="472.7"/><line x1="1351.5" x2="1356.4" y1="517.6" y2="517.6"/><line x1="1363.85" x2="1363.85" y1="561.8" y2="566.7"/><line x1="1438.4" x2="1438.4" y1="561.8" y2="566.7"/></g>
<text class="ya" x="1346.7" y="387.7">0.76</text><text class="ya" x="1346.7" y="432.7">0.74</text><text class="ya" x="1346.7" y="477.7">0.72</text><text class="ya" x="1346.7" y="522.6">0.70</text>
<text class="xa" x="1363.85" y="581.5">0</text><text class="xa" x="1438.4" y="581.5">3119</text>

<!-- ===== Legend ===== -->
<rect x="1312.3" y="527.3" width="259" height="29.7" rx="3" fill="#b8b8b8"/>
<rect x="1309.3" y="524.3" width="259" height="29.7" rx="3" fill="#fff" stroke="#d0d0d0" stroke-width="1"/>
<line x1="1356.4" x2="1356.4" y1="524.8" y2="553.5" stroke="#000" stroke-width="1.1"/>
<line x1="1520.4" x2="1520.4" y1="524.8" y2="553.5" stroke="#000" stroke-width="1.1"/>
<line x1="1315" x2="1341.7" y1="540.7" y2="540.7" stroke="#ff0000" stroke-width="1.5"/>
<text x="1354.5" y="546.5" font-style="italic">P</text>
<text x="1356.3" y="542" style="font-size:11px">ˆ</text>
<line x1="1392.7" x2="1419.3" y1="540.7" y2="540.7" stroke="#000" stroke-width="2.5"/>
<text x="1431.7" y="546" font-style="italic">σ</text>
<line x1="1470" x2="1497" y1="540.7" y2="540.7" stroke="#000" stroke-width="2.5" stroke-dasharray="2.5 4.1"/>
<text x="1508.3" y="546">95 % CI</text>

<!-- ===== Bottom panel ===== -->
<g clip-path="url(#kb)" fill="none" stroke="#1f77b4" stroke-width="1.5" stroke-linejoin="round">
<polyline points="145.3,641.7 145.8,650 146.5,652.5 148,654.5 152,656.5 160,658.8 175,661.8 200,665 230,667.5 260,669.5 300,671.7 350,673.7 400,675.7 460,677.7 550,680.8 650,684 725,686.5 800,689 875,691.3 950,693.7 1025,696 1100,698.5 1175,701.5 1225,704 1270,707 1300,710 1330,714 1356.7,719"/>
<rect x="1357" y="720" width="98.5" height="11" fill="#1f77b4" stroke="none"/>
<polyline stroke-width="1.6" points="1357,719 1358,809 1359,722 1360,742 1361,720 1362,805 1363,721 1364,738 1365,770 1366,720 1367,745 1368,722 1369,735 1370,719 1371,748 1372,721 1373,758 1374,720 1375,740 1376,722 1377,763 1378,719 1379,742 1380,721 1381,735 1382,720 1383,756 1384,722 1385,740 1386,719 1387,745 1388,752 1389,720 1390,738 1391,722 1392,742 1393,719 1394,736 1395,721 1396,744 1397,722 1398,789 1399,720 1400,740 1401,845 1402,721 1403,738 1404,752 1405,719 1406,742 1407,722 1408,736 1409,720 1410,744 1411,721 1412,738 1413,719 1414,742 1415,722 1416,735 1417,720 1418,761 1419,721 1420,740 1421,719 1422,744 1423,722 1424,738 1425,800 1426,720 1427,742 1428,721 1429,736 1430,719 1431,745 1432,752 1433,720 1434,738 1435,722 1436,742 1437,719 1438,736 1439,721 1440,744 1441,720 1442,740 1443,772 1444,722 1445,738 1446,719 1447,742 1448,721 1449,770 1450,720 1451,740 1452,771 1453,722 1454,740 1455,721 1456,738"/>
</g>
<rect class="sp" x="80.3" y="632.3" width="1439.7" height="223"/>
<g class="tk"><line x1="75.4" x2="80.3" y1="637.7" y2="637.7"/><line x1="75.4" x2="80.3" y1="678.4" y2="678.4"/><line x1="75.4" x2="80.3" y1="719.1" y2="719.1"/><line x1="75.4" x2="80.3" y1="759.9" y2="759.9"/><line x1="75.4" x2="80.3" y1="800.6" y2="800.6"/><line x1="75.4" x2="80.3" y1="841.3" y2="841.3"/><line x1="145.3" x2="145.3" y1="855.3" y2="860.2"/><line x1="800.3" x2="800.3" y1="855.3" y2="860.2"/></g>
<text class="ya" x="70.6" y="642.7">−2.5</text><text class="ya" x="70.6" y="683.4">−3.0</text><text class="ya" x="70.6" y="724.1">−3.5</text><text class="ya" x="70.6" y="764.9">−4.0</text><text class="ya" x="70.6" y="805.6">−4.5</text><text class="ya" x="70.6" y="846.3">−5.0</text>
<text class="xa" x="145.3" y="875.3">0</text><text class="xa" x="800.3" y="875.3">3119</text>
<!-- title -->
<text x="741.7" y="622.7" style="font-size:16px">log</text>
<text x="775.5" y="622.7" style="font-size:16px">[</text>
<text x="781" y="622.7" style="font-size:16px;font-style:italic">χ</text>
<text x="790" y="614" style="font-size:11.5px">2</text>
<text x="798.5" y="622.7" style="font-size:16px">−</text>
<text x="814" y="622.7" style="font-size:16px;font-style:italic">χ</text>
<text x="824" y="614" style="font-size:11.5px">2</text>
<text x="821.7" y="627" style="font-size:11.5px;font-style:italic">min</text>
<text x="850" y="622.7" style="font-size:16px">]</text>
</svg>
</body></html>
